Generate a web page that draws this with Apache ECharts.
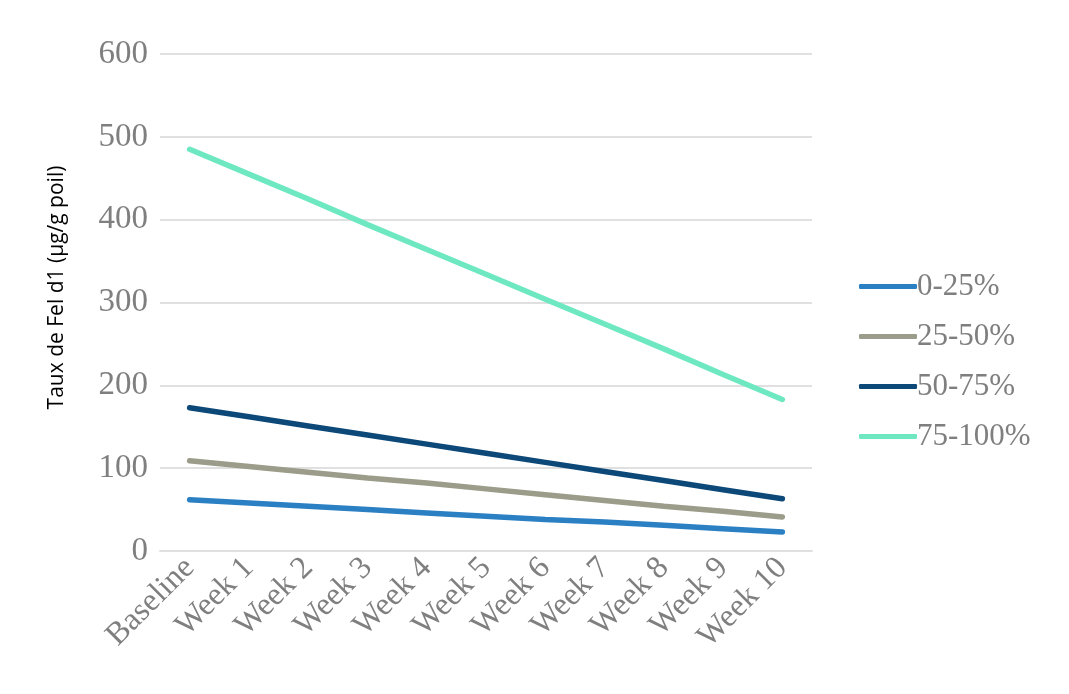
<!DOCTYPE html>
<html><head><meta charset="utf-8">
<script src="https://cdn.jsdelivr.net/npm/echarts@6/dist/echarts.min.js"></script>
<style>html,body{margin:0;padding:0;background:#fff}#c{width:1069px;height:694px}</style>
</head><body><div id="c"></div>
<script>
const categories = ['Baseline','Week 1','Week 2','Week 3','Week 4','Week 5','Week 6','Week 7','Week 8','Week 9','Week 10'];
const seriesNames = ['0-25%','25-50%','50-75%','75-100%'];
const s0_25 = [62, 58, 54, 50, 46, 42, 38, 35, 31, 27, 23];
const s25_50 = [109, 102, 95, 88, 82, 75, 68, 61, 54, 48, 41];
const s50_75 = [173, 162, 151, 140, 129, 118, 107, 96, 85, 74, 63];
const s75_100 = [485, 455, 425, 394, 364, 334, 304, 274, 244, 213, 183];
const yTicks = {min: 0, max: 600, interval: 100};
const colors = ['#2B7FC3', '#9B9C89', '#0C4878', '#6EE8C0'];
const yName = 'Taux de Fel d1 (µg/g poil)';

const chart = echarts.init(document.getElementById('c'));
const data = [s0_25, s25_50, s50_75, s75_100];
chart.setOption({
  animation: false,
  grid: {left: 160, right: 257, top: 54, bottom: 143},
  legend: {
    orient: 'vertical', left: 854, top: 266,
    itemWidth: 58, itemHeight: 5, itemGap: 19,
    icon: 'roundRect',
    textStyle: {fontFamily: 'Liberation Serif', fontSize: 31, color: '#7f7f7f', padding: [0,0,0,-5]},
    data: seriesNames
  },
  xAxis: {
    type: 'category', data: categories, boundaryGap: true,
    axisLine: {show: true, lineStyle: {color: '#e0e0e0', width: 2}},
    axisTick: {show: false},
    axisLabel: {rotate: 45, interval: 0, fontFamily: 'Liberation Serif', fontSize: 32, color: '#7f7f7f', margin: 12}
  },
  yAxis: {
    type: 'value', min: yTicks.min, max: yTicks.max, interval: yTicks.interval,
    name: yName, nameLocation: 'middle', nameGap: 92, nameRotate: 90,
    nameTextStyle: {fontFamily: 'Open Sans', fontSize: 21, color: '#000', padding: [0, 0, 0, 30]},
    axisLine: {show: false}, axisTick: {show: false},
    splitLine: {lineStyle: {color: '#e0e0e0', width: 2}},
    axisLabel: {fontFamily: 'Liberation Serif', fontSize: 33, color: '#7f7f7f', margin: 12}
  },
  series: seriesNames.map((n, i) => ({
    name: n, type: 'line', data: data[i], showSymbol: false, symbol: 'none',
    lineStyle: {color: colors[i], width: 5.5, cap: 'round'},
    itemStyle: {color: colors[i]}
  }))
});
</script></body></html>
